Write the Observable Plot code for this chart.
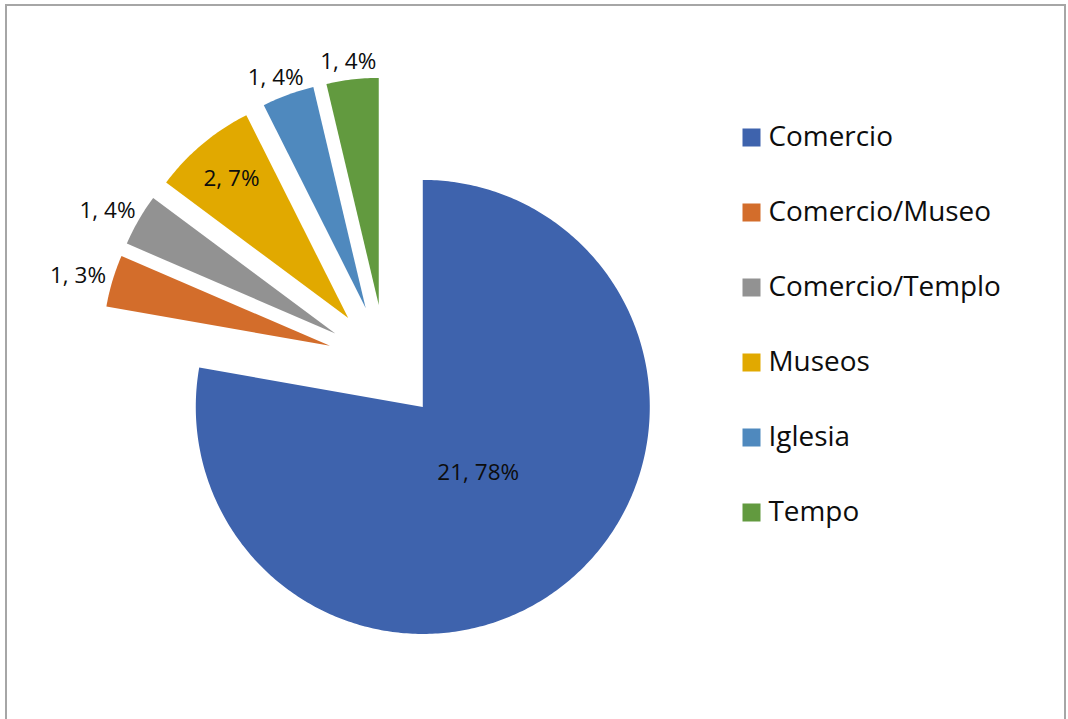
<!DOCTYPE html>
<html>
<head>
<meta charset="utf-8">
<script src="https://cdn.jsdelivr.net/npm/d3@7"></script>
<script src="https://cdn.jsdelivr.net/npm/@observablehq/plot@0.6"></script>
<style>
  html, body { margin: 0; padding: 0; background: #fff; overflow: hidden; }
  #frame { position: absolute; left: 5px; top: 4px; width: 1061px; height: 760px;
           border: 2px solid #a6a6a6; box-sizing: border-box; pointer-events: none; }
  #chart { position: absolute; left: 0; top: 0; }
</style>
</head>
<body>
<div id="chart"></div>
<div id="frame"></div>
<script>
// ---- data ----
const categories = ["Comercio", "Comercio/Museo", "Comercio/Templo", "Museos", "Iglesia", "Tempo"];
const counts = [21, 1, 1, 2, 1, 1];
const percentLabels = [78, 3, 4, 7, 4, 4];
const colors = ["#3e63ad", "#d36d2b", "#929292", "#e1a900", "#4f89be", "#629a3f"];

// ---- layout (pixels) ----
const W = 1068, H = 719;
const cx = 385, cy = 362, R = 227, explode = 58;
const insideRadius = [0.38, null, null, 0.80, null, null]; // null -> outside label
const outsideGap = 7, labelW = 58, labelH = 22;
const legendX = 751, legendTextX = 768, legendY0 = 137, legendStep = 75;

const pie = d3.pie().sort(null).value(d => d.count).startAngle(0).endAngle(2 * Math.PI);
const rows = categories.map((name, i) => ({name, count: counts[i], pct: percentLabels[i], i}));
const arcs = pie(rows);

// polygons for each slice (angle measured clockwise from 12 o'clock)
const poly = [];
const labels = [];
for (const a of arcs) {
  const mid = (a.startAngle + a.endAngle) / 2;
  const dx = Math.sin(mid), dy = -Math.cos(mid);
  const ax = cx + explode * dx, ay = cy + explode * dy;
  poly.push({name: a.data.name, x: ax, y: ay});
  const n = Math.max(8, Math.ceil((a.endAngle - a.startAngle) * 80));
  for (let k = 0; k <= n; k++) {
    const t = a.startAngle + (a.endAngle - a.startAngle) * k / n;
    poly.push({name: a.data.name, x: ax + R * Math.sin(t), y: ay - R * Math.cos(t)});
  }
  poly.push({name: a.data.name, x: ax, y: ay});
  const txt = `${a.data.count}, ${a.data.pct}%`;
  const ir = insideRadius[a.data.i];
  if (ir != null) {
    labels.push({text: txt, x: ax + ir * R * dx, y: ay + ir * R * dy});
  } else {
    const ex = ax + (R + outsideGap) * dx, ey = ay + (R + outsideGap) * dy;
    labels.push({text: txt, x: ex + dx * labelW / 2, y: ey + dy * labelH / 2});
  }
}

const legend = rows.map((d, i) => ({name: d.name, x: legendX, tx: legendTextX, y: legendY0 + i * legendStep}));

const font = "'Open Sans', 'DejaVu Sans', sans-serif";
const plot = Plot.plot({
  width: W, height: H,
  margin: 0,
  x: {type: "linear", domain: [0, W], range: [0, W], axis: null},
  y: {type: "linear", domain: [0, H], range: [0, H], axis: null},
  color: {domain: categories, range: colors},
  style: {background: "transparent", fontFamily: font},
  marks: [
    Plot.line(poly, {x: "x", y: "y", z: "name", fill: "name", stroke: "none", curve: "linear"}),
    Plot.text(labels, {x: "x", y: "y", text: "text", fontSize: 22.5, fill: "#0d0d0d", fontFamily: font, textAnchor: "middle", lineAnchor: "middle"}),
    Plot.dot(legend, {x: "x", y: "y", symbol: "square", r: 10.16, fill: "name", stroke: "none"}),
    Plot.text(legend, {x: "tx", y: "y", text: "name", fontSize: 27.9, fill: "#0d0d0d", fontFamily: font, textAnchor: "start", lineAnchor: "middle"})
  ]
});
document.getElementById("chart").appendChild(plot);
</script>
</body>
</html>
